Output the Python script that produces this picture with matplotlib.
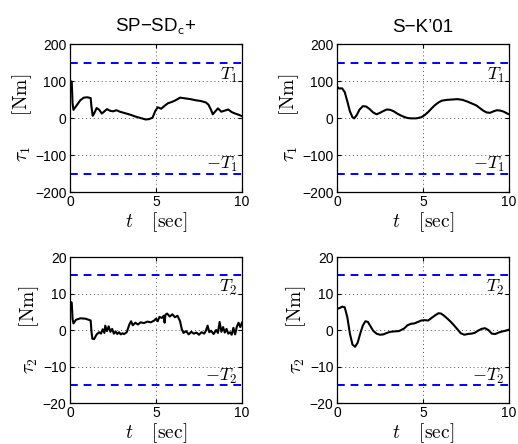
import numpy as np
import matplotlib
matplotlib.use('Agg')
import matplotlib.pyplot as plt

plt.rcParams['font.family'] = ['Liberation Sans', 'DejaVu Sans']
plt.rcParams['mathtext.fontset'] = 'cm'

# SP-SD_c+ : joint 1 torque
t_a1 = [0.0, 0.1, 0.15, 0.2, 0.4, 0.6, 0.8, 1.0, 1.2, 1.25, 1.32, 1.4, 1.55, 1.7, 1.85, 2.0,
        2.15, 2.3, 2.5, 2.7, 2.9, 3.2, 3.5, 3.8, 4.1, 4.4, 4.6, 4.8, 4.95, 5.1, 5.3, 5.5,
        5.7, 5.9, 6.1, 6.4, 6.7, 7.0, 7.3, 7.6, 7.9, 8.05, 8.2, 8.3, 8.45, 8.6, 8.8, 9.0,
        9.2, 9.4, 9.6, 9.8, 10.0]
tau_a1 = [100, 98, 40, 22, 35, 48, 55, 56, 54, 30, 6, 12, 27, 22, 12, 18,
          24, 20, 18, 21, 17, 13, 9, 4, 0, -4, -3, 1, 18, 29, 25, 33,
          40, 43, 47, 55, 53, 51, 48, 46, 42, 36, 22, 10, 18, 26, 17, 20,
          23, 16, 12, 9, 5]

# S-K'01 : joint 1 torque
t_b1 = [0.0, 0.1, 0.3, 0.45, 0.6, 0.75, 0.9, 1.0, 1.15, 1.3, 1.5, 1.7, 1.9, 2.1, 2.3, 2.5,
        2.7, 2.9, 3.1, 3.3, 3.5, 3.7, 3.9, 4.1, 4.3, 4.6, 4.9, 5.1, 5.3, 5.5, 5.7, 5.9,
        6.1, 6.4, 6.7, 7.0, 7.3, 7.6, 7.9, 8.1, 8.3, 8.5, 8.7, 8.9, 9.1, 9.3, 9.5, 9.7,
        9.9, 10.0]
tau_b1 = [85, 80, 80, 70, 45, 18, 2, -1, 8, 22, 32, 31, 24, 15, 10, 14,
          19, 23, 22, 18, 12, 7, 3, 0, -1, -1, 2, 8, 16, 26, 35, 42,
          47, 49, 50, 51, 49, 44, 38, 34, 27, 20, 15, 14, 18, 21, 20, 17,
          12, 10]

# SP-SD_c+ : joint 2 torque
t_a2 = [0.0, 0.1, 0.15, 0.2, 0.35, 0.6, 0.9, 1.2, 1.25, 1.3, 1.4, 1.55, 1.7, 1.8, 1.9, 2.0,
        2.05, 2.15, 2.25, 2.35, 2.45, 2.55, 2.65, 2.75, 2.85, 2.95, 3.05, 3.15, 3.3, 3.45,
        3.55, 3.65, 3.8, 3.95, 4.1, 4.3, 4.5, 4.7, 4.9, 5.0, 5.1, 5.2, 5.35, 5.45, 5.5, 5.55,
        5.65, 5.8, 5.95, 6.1, 6.25, 6.4, 6.5, 6.6, 6.75, 6.9, 7.05, 7.2, 7.35, 7.5, 7.65,
        7.8, 7.9, 8.0, 8.1, 8.2, 8.35, 8.5, 8.6, 8.7, 8.8, 8.9, 9.0, 9.1, 9.2, 9.3, 9.4,
        9.5, 9.6, 9.7, 9.8, 9.9, 10.0]
tau_a2 = [7.8, 7.5, 3.0, 1.8, 2.8, 3.2, 3.1, 2.6, -0.5, -2.4, -2.5, -1.2, -0.6, -1.0, 0.2, -0.8,
          1.2, -0.3, 1.0, -0.5, 0.3, -1.0, -0.4, -1.1, -0.6, -1.2, -0.9, -1.1, -0.6, 1.5,
          2.4, 1.3, 2.0, 1.5, 2.1, 1.9, 2.3, 2.1, 2.6, 3.1, 2.4, 3.6, 3.3, 3.9, 2.0, 4.2,
          4.5, 3.7, 4.3, 3.5, 3.9, 2.4, 0.2, -0.8, -0.3, -1.2, -0.5, -1.0, -0.7, -1.3, -0.6,
          -1.0, -0.2, 1.2, -0.6, -0.2, -1.1, 0.0, -0.8, 2.2, -0.5, 0.8, -0.7, 0.3, -1.0, -0.6,
          -1.3, 0.6, -1.2, 0.9, 2.0, 0.8, 2.0]

# S-K'01 : joint 2 torque
t_b2 = [0.0, 0.15, 0.3, 0.45, 0.6, 0.75, 0.9, 1.05, 1.2, 1.35, 1.5, 1.65, 1.8, 1.95, 2.1,
        2.3, 2.5, 2.7, 2.9, 3.1, 3.3, 3.6, 3.9, 4.1, 4.3, 4.5, 4.7, 4.9, 5.1, 5.3, 5.5,
        5.7, 5.9, 6.05, 6.2, 6.4, 6.6, 6.8, 7.0, 7.2, 7.4, 7.6, 7.8, 8.0, 8.2, 8.4, 8.6,
        8.8, 9.0, 9.2, 9.4, 9.6, 9.8, 10.0]
tau_b2 = [5.8, 6.0, 6.4, 6.2, 3.5, -1.0, -4.0, -4.6, -3.5, -1.0, 1.2, 2.4, 2.2, 1.0, -0.2,
          -1.0, -1.3, -1.2, -0.8, -0.5, -0.4, -0.3, 0.4, 1.3, 1.7, 1.8, 2.2, 2.6, 2.7, 2.6, 3.3,
          4.0, 4.6, 4.5, 4.0, 3.2, 2.3, 1.3, 0.2, -0.9, -1.3, -1.1, -1.0, -0.8, -0.2, 0.3, 0.5,
          0.0, -1.0, -1.1, -0.7, -0.4, -0.2, 0.1]

T1 = 150
T2 = 15
x_ticks = [0, 5, 10]
y_ticks_1 = [-200, -100, 0, 100, 200]
y_ticks_2 = [-20, -10, 0, 10, 20]
titles = ['SP\u2212SD$_\\mathsf{c}$+', 'S\u2212K\u201901']

W, H = 518, 444
fig = plt.figure(figsize=(W / 100, H / 100), dpi=100)


def px_axes(x0, y0, x1, y1):
    return fig.add_axes([x0 / W, 1 - y1 / H, (x1 - x0) / W, (y1 - y0) / H])


def style_axes(ax, lim, yticks, joint):
    ax.set_xlim(0, 10)
    ax.set_ylim(-lim, lim)
    ax.set_xticks(x_ticks)
    ax.set_yticks(yticks)
    ax.tick_params(direction='in', labelsize=10, length=3, top=True, right=True)
    ax.tick_params(axis='x', pad=2.5)
    ax.tick_params(axis='y', pad=2.5)
    ax.grid(True, linestyle=(0, (1, 3)), color='#555555', linewidth=0.7)
    for sp in ax.spines.values():
        sp.set_linewidth(0.9)
    ax.set_ylabel(r'$\tau_{%d}\quad\enspace\;[\mathrm{Nm}]$' % joint, fontsize=14, labelpad=1)
    ax.set_xlabel(r'$t\quad\,[\mathrm{sec}]$', fontsize=14, labelpad=0.5)


def limits(ax, T, joint, lim):
    ax.axhline(T, color='blue', linestyle=(0, (4, 3)), linewidth=1.4)
    ax.axhline(-T, color='blue', linestyle=(0, (4, 3)), linewidth=1.4)
    ax.text(9.75, T - 0.17 * lim, r'$T_{%d}$' % joint, ha='right', va='center', fontsize=13)
    ax.text(9.75, -T + 0.12 * lim, r'$-T_{%d}$' % joint, ha='right', va='center', fontsize=13)


ax = px_axes(70, 44, 242, 192)
ax.plot(t_a1, tau_a1, color='black', linewidth=1.5)
style_axes(ax, 200, y_ticks_1, 1)
limits(ax, T1, 1, 200)
ax.set_title(titles[0], fontsize=13.5, pad=9)

ax = px_axes(337, 44, 509, 192)
ax.plot(t_b1, tau_b1, color='black', linewidth=1.5)
style_axes(ax, 200, y_ticks_1, 1)
limits(ax, T1, 1, 200)
ax.set_title(titles[1], fontsize=13.5, pad=9)

ax = px_axes(70, 257, 242, 403)
ax.plot(t_a2, tau_a2, color='black', linewidth=1.5)
style_axes(ax, 20, y_ticks_2, 2)
limits(ax, T2, 2, 20)

ax = px_axes(337, 257, 509, 403)
ax.plot(t_b2, tau_b2, color='black', linewidth=1.5)
style_axes(ax, 20, y_ticks_2, 2)
limits(ax, T2, 2, 20)

fig.savefig('out.png', dpi=100)
